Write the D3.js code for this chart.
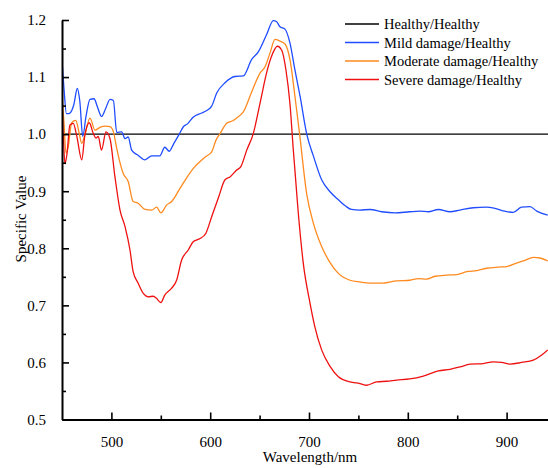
<!DOCTYPE html>
<html>
<head>
<meta charset="utf-8">
<script src="https://cdn.jsdelivr.net/npm/d3@7"></script>
<style>
  body { margin: 0; background: #fff; }
  svg { display: block; }
  text { font-family: "Liberation Serif", "Times New Roman", serif; fill: #000; }
</style>
</head>
<body>
<svg id="chart" width="548" height="468"></svg>
<script>
// series: [wavelength nm, specific value]
const healthy = [[450, 1.0], [942, 1.0]];

const mild = [[450,1.13],[452,1.08],[454.5,1.036],[457,1.036],[460,1.042],[462,1.052],[465.5,1.080],[468,1.058],
  [471,0.996],[474.3,1.031],[478.3,1.061],[482.4,1.062],[486,1.047],[490,1.031],[494,1.044],[498.6,1.061],
  [502,1.059],[505.4,1.003],[510.4,1.004],[513.8,0.992],[517,0.995],[520.5,0.972],[527,0.963],[534,0.955],
  [540.8,0.962],[549,0.962],[554,0.977],[558.6,0.970],[563,0.983],[568.7,1.0],[572.8,1.013],[577,1.018],
  [583,1.030],[591.4,1.037],[596,1.041],[601.5,1.049],[606.6,1.072],[615,1.090],[625,1.101],[633.5,1.102],
  [642,1.131],[648.7,1.144],[657,1.174],[663.9,1.199],[667.3,1.197],[670.6,1.188],[675.7,1.184],[680.8,1.159],
  [685.8,1.112],[691,1.066],[697.7,1.0],[704.4,0.962],[712.8,0.920],[721.3,0.899],[729.7,0.885],[737,0.874],
  [743,0.868],[751.6,0.867],[761.7,0.868],[773.6,0.864],[787,0.862],[802,0.864],[812.3,0.865],[820.7,0.864],
  [831,0.868],[842.7,0.864],[852.8,0.867],[866.3,0.871],[879.8,0.872],[888,0.870],[898.4,0.865],[906.8,0.863],
  [915,0.872],[923.7,0.873],[930.5,0.865],[941.6,0.858]];

const moderate = [[450,1.07],[452,1.02],[454,0.967],[456,0.975],[459.8,1.020],[464,1.024],[467,1.005],[470,0.984],
  [474,1.005],[478.3,1.028],[483.4,1.007],[488.5,1.012],[493.5,1.014],[498.6,1.013],[502,1.004],[505.4,0.975],
  [508,0.955],[512,0.931],[517,0.917],[522,0.882],[527,0.879],[534,0.868],[540.8,0.867],[545.8,0.872],
  [550,0.862],[556,0.876],[561,0.882],[569.4,0.905],[576,0.923],[583,0.940],[589.7,0.952],[595,0.960],
  [601.5,0.969],[606,0.990],[610,1.001],[616.7,1.019],[623.4,1.024],[628,1.030],[633.5,1.039],[642,1.074],
  [650.4,1.107],[655.5,1.118],[660.5,1.142],[665.6,1.166],[670.6,1.163],[675.7,1.158],[680.8,1.130],[685.8,1.066],
  [690.5,1.0],[697.7,0.895],[704.4,0.844],[712.8,0.803],[721.3,0.775],[729.7,0.756],[741.5,0.744],[751.6,0.741],
  [761.7,0.739],[775,0.739],[788.7,0.743],[802,0.744],[810.6,0.747],[819,0.746],[827.5,0.751],[839.4,0.753],
  [849.5,0.754],[859.6,0.759],[869.7,0.761],[879.8,0.765],[891.6,0.767],[900,0.768],[910,0.774],[918.6,0.779],
  [927,0.784],[933.8,0.783],[941.6,0.778]];

const severe = [[450,1.05],[451.5,0.99],[453,0.948],[455,0.965],[458,1.016],[461.4,1.019],[465,0.996],[470,0.955],
  [473,0.996],[477.6,1.020],[481.7,1.001],[484.4,0.993],[486.7,0.996],[490,0.972],[494.5,1.004],[498.6,0.992],
  [503.6,0.925],[508.7,0.867],[513.8,0.838],[518.8,0.797],[522,0.759],[527,0.739],[532.3,0.721],[537.3,0.715],
  [542.4,0.716],[545.8,0.712],[550,0.705],[554,0.718],[561,0.730],[566,0.744],[571,0.779],[577.8,0.797],
  [583,0.812],[589.7,0.817],[595.5,0.826],[602,0.858],[608.2,0.888],[615,0.920],[620,0.925],[626.8,0.937],
  [631,0.943],[637,0.972],[643.6,1.001],[650.4,1.054],[657,1.107],[662,1.136],[668,1.154],[672.4,1.147],
  [676.7,1.112],[680.8,1.052],[684,0.975],[689,0.865],[694.2,0.774],[701,0.704],[706,0.662],[712.8,0.622],
  [721.3,0.593],[729.7,0.575],[741.5,0.566],[751.6,0.563],[758.4,0.560],[768.5,0.566],[778.6,0.567],[788.7,0.569],
  [802,0.571],[815.7,0.576],[830.9,0.585],[842.7,0.588],[852.8,0.592],[863,0.597],[876.4,0.598],[886.5,0.601],
  [895,0.600],[903.4,0.597],[915.3,0.600],[927,0.604],[935.5,0.613],[941.6,0.622]];

const seriesNames = ['Healthy/Healthy', 'Mild damage/Healthy', 'Moderate damage/Healthy', 'Severe damage/Healthy'];
const seriesColors = ['#000000', '#1f4dff', '#ff8a1f', '#ee1111'];
const xMajorTicks = [500, 600, 700, 800, 900];
const xMinorTicks = [550, 650, 750, 850];
const yMajorTicks = [0.5, 0.6, 0.7, 0.8, 0.9, 1.0, 1.1, 1.2];
const yMinorTicks = [0.55, 0.65, 0.75, 0.85, 0.95, 1.05, 1.15];

const svg = d3.select('#chart');
const plotLeft = 62, plotRight = 548, plotTop = 20, plotBottom = 419.5;

const x = d3.scaleLinear().domain([450, 941.9]).range([plotLeft, plotRight]);
const y = d3.scaleLinear().domain([0.5, 1.2]).range([plotBottom, plotTop]);

svg.append('clipPath').attr('id', 'plotClip')
  .append('rect').attr('x', plotLeft).attr('y', plotTop - 2)
  .attr('width', plotRight - plotLeft).attr('height', plotBottom - plotTop + 2);

const line = d3.line()
  .x(d => x(d[0]))
  .y(d => y(d[1]))
  .curve(d3.curveMonotoneX);

const plot = svg.append('g').attr('clip-path', 'url(#plotClip)');
[healthy, mild, moderate, severe].forEach((data, i) => {
  plot.append('path')
    .datum(data)
    .attr('fill', 'none')
    .attr('stroke', seriesColors[i])
    .attr('stroke-width', i === 0 ? 1.4 : 1.3)
    .attr('stroke-linejoin', 'round')
    .attr('d', line);
});

// axes, ticks pointing inward
svg.append('g').attr('transform', `translate(0,${plotBottom})`)
  .call(d3.axisBottom(x).tickValues(xMajorTicks).tickFormat(d3.format('d'))
    .tickSizeInner(-7).tickSizeOuter(0).tickPadding(17));
svg.append('g').attr('transform', `translate(0,${plotBottom})`)
  .call(d3.axisBottom(x).tickValues(xMinorTicks).tickFormat('').tickSizeInner(-4).tickSizeOuter(0))
  .select('.domain').remove();

svg.append('g').attr('transform', `translate(${plotLeft},0)`)
  .call(d3.axisLeft(y).tickValues(yMajorTicks).tickFormat(d3.format('.1f'))
    .tickSizeInner(-7).tickSizeOuter(0).tickPadding(16));
svg.append('g').attr('transform', `translate(${plotLeft},0)`)
  .call(d3.axisLeft(y).tickValues(yMinorTicks).tickFormat('').tickSizeInner(-4).tickSizeOuter(0))
  .select('.domain').remove();

svg.selectAll('.domain').attr('stroke', '#000').attr('stroke-width', 2);
svg.selectAll('.tick line').attr('stroke', '#000').attr('stroke-width', 1.6);
svg.selectAll('.tick text')
  .style('font-family', '"Liberation Serif", "Times New Roman", serif')
  .attr('font-size', 15).attr('fill', '#000');

svg.append('text')
  .attr('x', 310).attr('y', 462)
  .attr('text-anchor', 'middle')
  .attr('font-size', 15)
  .text('Wavelength/nm');

svg.append('text')
  .attr('transform', 'translate(26,219) rotate(-90)')
  .attr('text-anchor', 'middle')
  .attr('font-size', 15)
  .text('Specific Value');

// legend
const legend = svg.append('g');
seriesNames.forEach((name, i) => {
  const ly = 24 + i * 18.5;
  legend.append('line')
    .attr('x1', 345).attr('x2', 379).attr('y1', ly).attr('y2', ly)
    .attr('stroke', seriesColors[i]).attr('stroke-width', 1.4);
  legend.append('text')
    .attr('x', 384).attr('y', ly + 5)
    .attr('font-size', 14.5)
    .text(name);
});
</script>
</body>
</html>
